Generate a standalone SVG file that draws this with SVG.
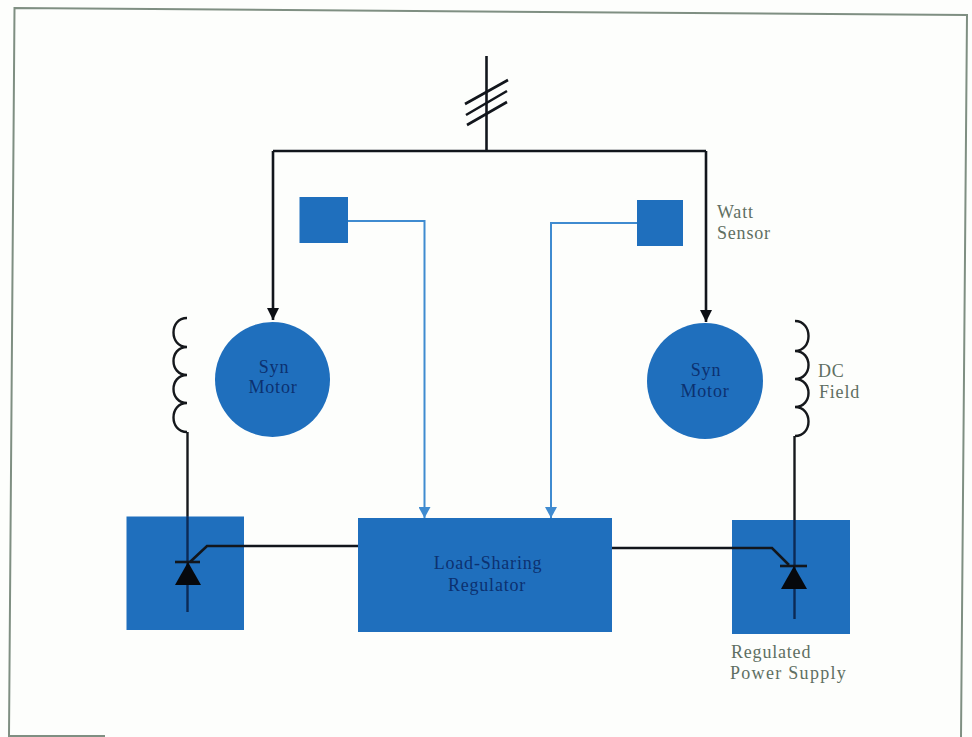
<svg xmlns="http://www.w3.org/2000/svg" width="972" height="737" viewBox="0 0 972 737">
<style>
.b{fill:#1f6fbd}
.k{fill:none;stroke:#12161c;stroke-width:2.6}
.u{fill:none;stroke:#3f8bd0;stroke-width:2}
.c{fill:none;stroke:#15181c;stroke-width:2.4}
.v{fill:none;stroke:#0c2a55;stroke-width:2.4}
.l{font-family:"Liberation Serif",serif;font-size:18px;fill:#5f6f62;letter-spacing:.8px}
.w{letter-spacing:1.3px}
.n{font-family:"Liberation Serif",serif;font-size:18px;fill:#0c3170;text-anchor:middle;letter-spacing:.8px}
</style>
<defs>
<marker id="ak" markerWidth="14" markerHeight="12" refX="12" refY="6" orient="auto" markerUnits="userSpaceOnUse"><path d="M0 0L12 6L0 12Z" fill="#0c0f14"/></marker>
<marker id="au" markerWidth="13" markerHeight="12" refX="11" refY="6" orient="auto" markerUnits="userSpaceOnUse"><path d="M0 0L11 6L0 12Z" fill="#3f8bd0"/></marker>
</defs>
<rect width="972" height="737" fill="#fdfefc"/>
<path id="frame" d="M105 736H9L14.500 8L967 15L961 737" fill="none" stroke="#7f8f82" stroke-width="2"/>
<g id="left-supply"><rect class="b" x="126.500" y="516.500" width="117.500" height="113.500"/></g>
<g id="regulator"><rect class="b" x="358" y="518" width="254" height="114"/>
<text class="n" x="488" y="569">Load-Sharing</text><text class="n" x="487" y="591">Regulator</text></g>
<g id="right-supply"><rect class="b" x="732" y="520" width="118" height="114"/></g>
<g id="left-sensor"><rect class="b" x="299.500" y="197" width="48.500" height="46"/></g>
<g id="right-sensor"><rect class="b" x="637" y="200" width="46" height="46"/></g>
<g id="left-motor"><circle class="b" cx="272.500" cy="379.500" r="57.500"/>
<text class="n" x="274" y="373">Syn</text><text class="n" x="273" y="393">Motor</text></g>
<g id="right-motor"><circle class="b" cx="705" cy="381" r="58"/>
<text class="n" x="706" y="376">Syn</text><text class="n" x="705" y="397">Motor</text></g>
<g id="connectors">
<path class="k" d="M486.500 56V151"/>
<path class="k" d="M465 104L508 80M466 115L507 91M467 125L507 102"/>
<path class="k" d="M273 151H706"/>
<path class="k" marker-end="url(#ak)" d="M273 151V320"/>
<path class="k" marker-end="url(#ak)" d="M706 151V322"/>
<path class="u" marker-end="url(#au)" d="M348 221H424.500V518"/>
<path class="u" marker-end="url(#au)" d="M637 223H551V518"/>
<path class="c" d="M187 318C169 318 169 347 187 347C169 347 169 375 187 375C169 375 169 403 187 403C169 403 169 432 187 432"/>
<path class="c" d="M187.500 432V516"/>
<path class="v" d="M187.500 516V612"/>
<path class="c" d="M795 321C813 321 813 351 795 351C813 351 813 379 795 379C813 379 813 407 795 407C813 407 813 436 795 436"/>
<path class="c" d="M794.500 436V520"/>
<path class="v" d="M794.500 520V619"/>
<path class="k" d="M175 562H200"/>
<path d="M188 562L201 585H175Z" fill="#06080c"/>
<path class="k" d="M190 562L207 546H358"/>
<path class="k" d="M780 566H807"/>
<path d="M794 566L807 589H781Z" fill="#06080c"/>
<path class="k" d="M612 548H772L789 565"/>
</g>
<text class="l" x="717" y="218">Watt</text>
<text class="l" x="717" y="239">Sensor</text>
<text class="l" x="818" y="377">DC</text>
<text class="l" x="819" y="398">Field</text>
<text class="l" x="731" y="658">Regulated</text>
<text class="l w" x="730" y="679">Power Supply</text>
</svg>
